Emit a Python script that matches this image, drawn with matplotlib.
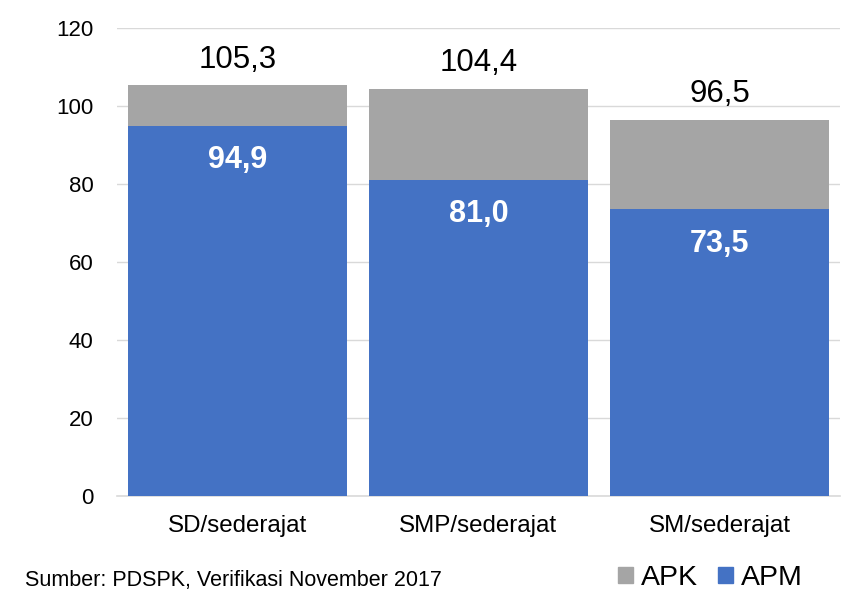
import matplotlib
matplotlib.use("Agg")
import matplotlib.pyplot as plt
from matplotlib.patches import Patch

plt.rcParams['font.family'] = ['Liberation Sans', 'DejaVu Sans']

categories = ['SD/sederajat', 'SMP/sederajat', 'SM/sederajat']
apk = [105.3, 104.4, 96.5]
apm = [94.9, 81.0, 73.5]

blue = '#4472C4'
gray = '#A5A5A5'

fig = plt.figure(figsize=(8.55, 5.98), dpi=100)
ax = fig.add_axes([0.1368, 0.1706, 0.8456, 0.7826])

x = range(len(categories))
ax.bar(x, apk, width=0.91, color=gray, zorder=2)
ax.bar(x, apm, width=0.91, color=blue, zorder=3)

def fmt(v):
    return f'{v:.1f}'.replace('.', ',')

# value labels: total above the bar, APM inside the blue part
for i in x:
    ax.text(i, apk[i] + 6.5, fmt(apk[i]), ha='center', va='center', fontsize=22.5)
    ax.text(i, apm[i] - 8.8, fmt(apm[i]), ha='center', va='center', fontsize=22,
            fontweight='bold', color='white', zorder=4)

ax.set_xlim(-0.5, 2.5)
ax.set_ylim(0, 120)
ax.set_yticks(range(0, 121, 20))
ax.set_xticks(list(x))
ax.set_xticklabels(categories, fontsize=17.4)
ax.tick_params(axis='y', labelsize=16, length=0, pad=17)
ax.tick_params(axis='x', length=0, pad=14)
ax.grid(axis='y', color='#D9D9D9', linewidth=1, zorder=0)
ax.set_axisbelow(True)
for s in ['top', 'right', 'left']:
    ax.spines[s].set_visible(False)
ax.spines['bottom'].set_color('#D9D9D9')
ax.spines['bottom'].set_linewidth(1.2)

fig.text(0.029, 0.030, 'Sumber: PDSPK, Verifikasi November 2017', fontsize=15.5,
         va='center', ha='left')

handles = [Patch(color=gray, label='APK'), Patch(color=blue, label='APM')]
fig.legend(handles=handles, loc='center left', bbox_to_anchor=(618 / 855, 0.0334),
           ncol=2, frameon=False, fontsize=20.5, handlelength=0.52, handleheight=0.52,
           handletextpad=0.28, columnspacing=0.72, borderpad=0, borderaxespad=0)

fig.savefig('out.png', dpi=100)
